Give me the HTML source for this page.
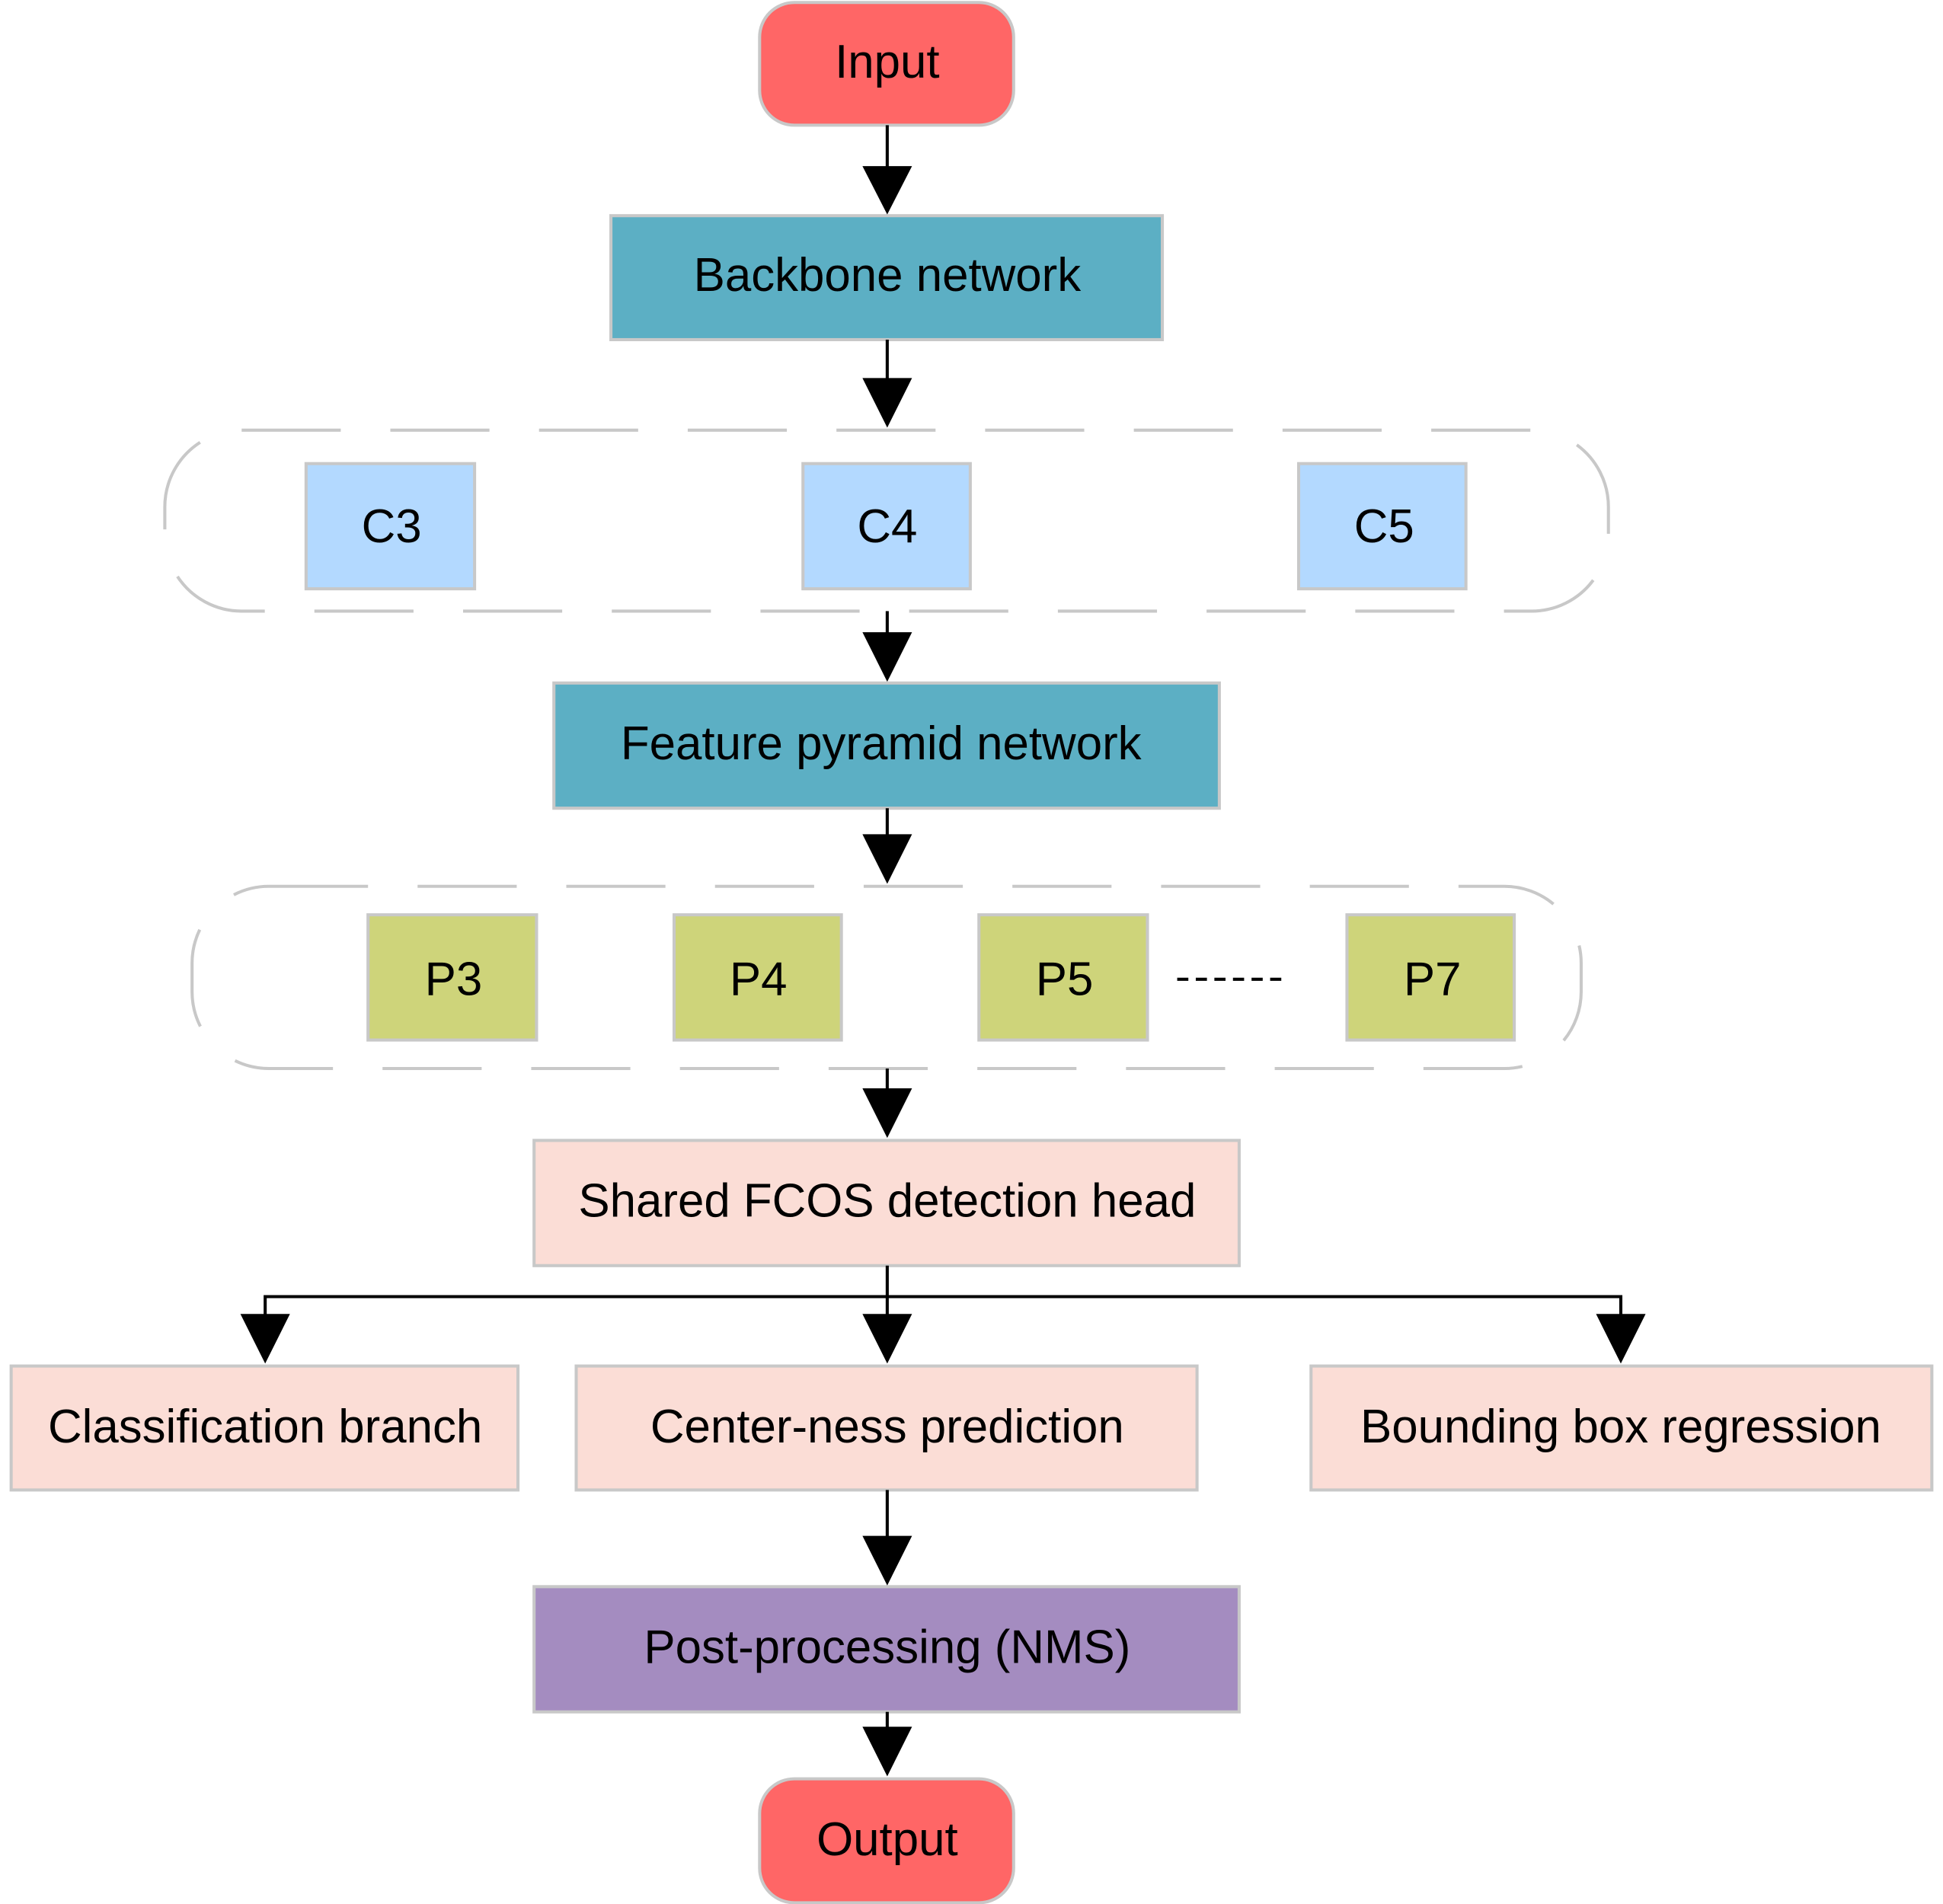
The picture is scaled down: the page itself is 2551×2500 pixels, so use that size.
<!DOCTYPE html>
<html><head><meta charset="utf-8"><style>
html,body{margin:0;padding:0;background:#fff;}
svg{display:block;}
text{font-family:"Liberation Sans",Arial,sans-serif;font-size:38px;fill:#000;text-anchor:middle;dominant-baseline:central;}
</style></head><body>
<svg width="2551" height="2500" viewBox="0 0 1568 1536" preserveAspectRatio="none" xmlns="http://www.w3.org/2000/svg">
<g stroke="#c8c8c8" stroke-width="2.5">
<rect x="613" y="2" width="205" height="99" rx="28" fill="#ff6666"/>
<rect x="493" y="174" width="445" height="100" fill="#5cafc4"/>
<rect x="133" y="347" width="1165" height="146" rx="62" fill="none" stroke-dasharray="80,40"/>
<rect x="247" y="374" width="136" height="101" fill="#b3d9ff"/>
<rect x="648" y="374" width="135" height="101" fill="#b3d9ff"/>
<rect x="1048" y="374" width="135" height="101" fill="#b3d9ff"/>
<rect x="447" y="551" width="537" height="101" fill="#5cafc4"/>
<rect x="155" y="715" width="1121" height="147" rx="62" fill="none" stroke-dasharray="80,40"/>
<rect x="297" y="738" width="136" height="101" fill="#ced47a"/>
<rect x="544" y="738" width="135" height="101" fill="#ced47a"/>
<rect x="790" y="738" width="136" height="101" fill="#ced47a"/>
<rect x="1087" y="738" width="135" height="101" fill="#ced47a"/>
<rect x="431" y="920" width="569" height="101" fill="#fbddd6"/>
<rect x="9" y="1102" width="409" height="100" fill="#fbddd6"/>
<rect x="465" y="1102" width="501" height="100" fill="#fbddd6"/>
<rect x="1058" y="1102" width="501" height="100" fill="#fbddd6"/>
<rect x="431" y="1280" width="569" height="101" fill="#a48cc0"/>
<rect x="613" y="1435" width="205" height="100" rx="28" fill="#ff6666"/>
</g>
<line x1="950" y1="790" x2="1035" y2="790" stroke="#000" stroke-width="2.5" stroke-dasharray="9,6"/>
<g stroke="#000" stroke-width="2.5" fill="none">
<line x1="716" y1="101" x2="716" y2="136"/>
<line x1="716" y1="274" x2="716" y2="307"/>
<line x1="716" y1="493" x2="716" y2="512"/>
<line x1="716" y1="652" x2="716" y2="675"/>
<line x1="716" y1="862" x2="716" y2="880"/>
<polyline points="716,1021 716,1046"/>
<polyline points="214,1062 214,1046 1308,1046 1308,1062"/>
<line x1="716" y1="1046" x2="716" y2="1062"/>
<line x1="716" y1="1202" x2="716" y2="1241"/>
<line x1="716" y1="1381" x2="716" y2="1395"/>
</g>
<g fill="#000">
<polygon points="696,134 736,134 716,173"/>
<polygon points="696,305 736,305 716,345"/>
<polygon points="696,510 736,510 716,550"/>
<polygon points="696,673 736,673 716,713"/>
<polygon points="696,878 736,878 716,918"/>
<polygon points="194,1060 234,1060 214,1100"/>
<polygon points="696,1060 736,1060 716,1100"/>
<polygon points="1288,1060 1328,1060 1308,1100"/>
<polygon points="696,1239 736,1239 716,1279"/>
<polygon points="696,1393 736,1393 716,1433"/>
</g>
<text x="716" y="50">Input</text>
<text x="716" y="222">Backbone network</text>
<text x="316" y="425">C3</text>
<text x="716" y="425">C4</text>
<text x="1117" y="425">C5</text>
<text x="711" y="600">Feature pyramid network</text>
<text x="366" y="790">P3</text>
<text x="612" y="790">P4</text>
<text x="859" y="790">P5</text>
<text x="1156" y="790">P7</text>
<text x="716" y="969">Shared FCOS detection head</text>
<text x="214" y="1151">Classification branch</text>
<text x="716" y="1151">Center-ness prediction</text>
<text x="1308" y="1151">Bounding box regression</text>
<text x="716" y="1329">Post-processing (NMS)</text>
<text x="716" y="1484">Output</text>
</svg>
</body></html>
